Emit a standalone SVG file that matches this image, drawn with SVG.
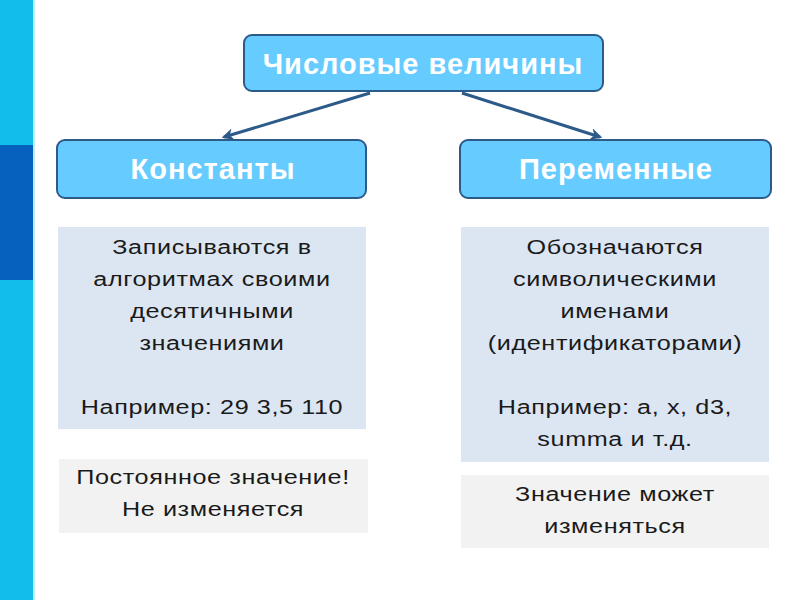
<svg xmlns="http://www.w3.org/2000/svg" width="800" height="600" viewBox="0 0 800 600">
<style>
.hdr{fill:#66CCFF;stroke:#2D5B89;stroke-width:2}
.ht{font-family:"Liberation Sans",Arial,sans-serif;font-weight:bold;font-size:29px;letter-spacing:1px;fill:#fff;text-anchor:middle}
.bt{font-family:"Liberation Sans",Arial,sans-serif;font-size:21px;letter-spacing:0.5px;fill:#1a1a1a;text-anchor:middle}
.blue{fill:#DCE6F2}
.gray{fill:#F2F2F2}
.con{stroke:#2D5B89;stroke-width:3;fill:none}
</style>
<defs>
<marker id="ah" viewBox="0 0 10 10" refX="8" refY="5" markerWidth="4" markerHeight="4" orient="auto" markerUnits="strokeWidth">
<path d="M0,0 L10,5 L0,10 L3,5 z" fill="#2D5B89"/>
</marker>
</defs>
<rect width="800" height="600" fill="#fff"/>
<g id="sidebar">
<rect x="0" y="0" width="33" height="600" fill="#12BDEC"/>
<rect x="0" y="145" width="33" height="135" fill="#0660BE"/>
<rect x="33" y="0" width="2" height="600" fill="#BEEAF8"/>
</g>
<g id="connectors">
<line class="con" x1="370" y1="93" x2="224" y2="137" marker-end="url(#ah)"/>
<line class="con" x1="462" y1="93" x2="600" y2="137" marker-end="url(#ah)"/>
</g>
<g id="root">
<rect class="hdr" x="244" y="35" width="359" height="56" rx="8"/>
<text class="ht" x="423" y="74">Числовые величины</text>
</g>
<g id="constants">
<rect class="hdr" x="57" y="140" width="309" height="58" rx="8"/>
<text class="ht" x="213" y="179">Константы</text>
</g>
<g id="variables">
<rect class="hdr" x="460" y="140" width="311" height="58" rx="8"/>
<text class="ht" x="616" y="179">Переменные</text>
</g>
<g id="constants-desc">
<rect class="blue" x="58" y="227" width="308" height="202"/>
<text class="bt" transform="matrix(1.2,0,0,1,-42.4,0)"><tspan x="212" y="254">Записываются в</tspan><tspan x="212" y="286">алгоритмах своими</tspan><tspan x="212" y="318">десятичными</tspan><tspan x="212" y="350">значениями</tspan><tspan x="212" y="414">Например: 29 3,5 110</tspan></text>
</g>
<g id="variables-desc">
<rect class="blue" x="461" y="227" width="308" height="235"/>
<text class="bt" transform="matrix(1.2,0,0,1,-123,0)"><tspan x="615" y="254">Обозначаются</tspan><tspan x="615" y="286">символическими</tspan><tspan x="615" y="318">именами</tspan><tspan x="615" y="350">(идентификаторами)</tspan><tspan x="615" y="414">Например: a, x, d3,</tspan><tspan x="615" y="446">summa и т.д.</tspan></text>
</g>
<g id="constants-note">
<rect class="gray" x="59" y="459" width="309" height="74"/>
<text class="bt" transform="matrix(1.2,0,0,1,-42.6,0)"><tspan x="213" y="484">Постоянное значение!</tspan><tspan x="213" y="516">Не изменяется</tspan></text>
</g>
<g id="variables-note">
<rect class="gray" x="461" y="475" width="308" height="73"/>
<text class="bt" transform="matrix(1.2,0,0,1,-123,0)"><tspan x="615" y="501">Значение может</tspan><tspan x="615" y="533">изменяться</tspan></text>
</g>
</svg>
